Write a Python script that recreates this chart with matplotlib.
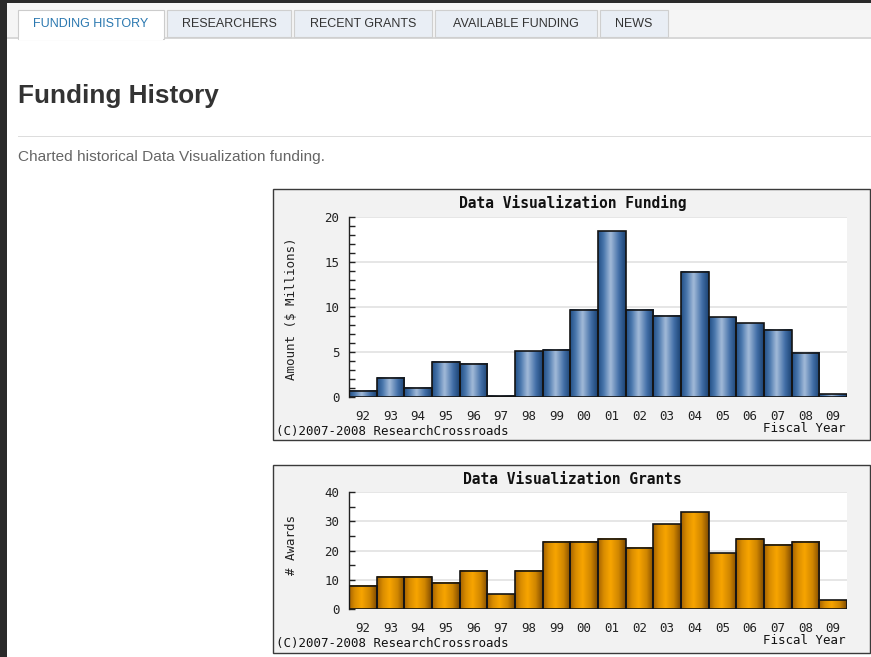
import numpy as np
import matplotlib
matplotlib.use("Agg")
import matplotlib.pyplot as plt
from matplotlib.patches import Rectangle
from matplotlib.colors import LinearSegmentedColormap

# --- data ---
years = ["92", "93", "94", "95", "96", "97", "98", "99", "00",
         "01", "02", "03", "04", "05", "06", "07", "08", "09"]
funding = [0.72, 2.14, 1.04, 3.92, 3.66, 0.15, 5.06, 5.21, 9.69,
           18.34, 9.69, 8.98, 13.9, 8.84, 8.17, 7.43, 4.88, 0.3]
awards = [8, 11, 11, 9, 13, 5, 13, 23, 23, 24, 21, 29, 33, 19, 24, 22, 23, 3]
tabs = ["FUNDING HISTORY", "RESEARCHERS", "RECENT GRANTS", "AVAILABLE FUNDING", "NEWS"]

W, H = 871, 657
MONO = "DejaVu Sans Mono"
SANS = "Liberation Sans"

fig = plt.figure(figsize=(W / 100, H / 100), dpi=100)
fig.patch.set_facecolor("white")


def fx(x):
    return x / W


def fy(y):
    return 1 - y / H


def rect_px(x0, y0, x1, y1, zorder=-1, **kw):
    fig.patches.append(Rectangle((fx(x0), fy(y1)), fx(x1) - fx(x0), fy(y0) - fy(y1),
                                 transform=fig.transFigure, zorder=zorder, **kw))


def axes_px(x0, y0, x1, y1):
    return fig.add_axes([fx(x0), fy(y1), fx(x1) - fx(x0), fy(y0) - fy(y1)])


# page chrome
rect_px(0, 0, W, 3, facecolor="#2a2a2a", edgecolor="none")
rect_px(0, 0, 7, H, facecolor="#2a2a2a", edgecolor="none")
rect_px(7, 3, W, 38, facecolor="#f5f5f5", edgecolor="none")
rect_px(7, 37, W, 39, facecolor="#d8d8d8", edgecolor="none")

tab_edges = [(18, 164), (167, 291), (294, 432), (435, 597), (600, 668)]
for i, (name, (a, b)) in enumerate(zip(tabs, tab_edges)):
    if i == 0:
        rect_px(a, 10, b, 39, facecolor="white", edgecolor="#cccccc", linewidth=0.8)
        rect_px(a + 0.8, 37, b - 0.8, 40, facecolor="white", edgecolor="none")
        col = "#2b78b0"
    else:
        rect_px(a, 10, b, 37, facecolor="#e9eef5", edgecolor="#cfcfcf", linewidth=0.8)
        col = "#333333"
    fig.text(fx((a + b) / 2), fy(24), name, family=SANS, fontsize=9, color=col,
             ha="center", va="center")

fig.text(fx(18), fy(96), "Funding History", family=SANS, fontsize=18.8, fontweight="bold",
         color="#333333", ha="left", va="center")
rect_px(18, 135.5, W, 136.7, facecolor="#dddddd", edgecolor="none")
fig.text(fx(18), fy(157), "Charted historical Data Visualization funding.", family=SANS,
         fontsize=11.1, color="#666666", ha="left", va="center")

blue = LinearSegmentedColormap.from_list(
    "blue", [(0, "#234f86"), (0.2, "#4a77ad"), (0.45, "#a3bbd9"), (0.75, "#4370a8"), (1, "#1b4273")])
orange = LinearSegmentedColormap.from_list(
    "orange", [(0, "#a56200"), (0.2, "#d98c00"), (0.45, "#f8a500"), (0.75, "#cf8500"), (1, "#7f4b00")])


def chart(box, plot, title, values, ymax, major, minor, ylabel, ylab_y, cmap):
    bx0, by0, bx1, by1 = box
    rect_px(bx0, by0, bx1, by1, facecolor="#f2f2f2", edgecolor="#3a3a3a", linewidth=1.0)
    ax = axes_px(*plot)
    ax.set_facecolor("white")
    x = np.arange(len(values))
    bars = ax.bar(x, values, width=1.0, color="none", edgecolor="#141414", linewidth=1.2, zorder=3)
    grad = np.linspace(0, 1, 64).reshape(1, -1)
    for b in bars:
        x0, w, h = b.get_x(), b.get_width(), b.get_height()
        ax.imshow(grad, cmap=cmap, aspect="auto", extent=(x0, x0 + w, 0, h),
                  interpolation="bicubic", zorder=2)
    ax.set_xlim(-0.5, len(values) - 0.5)
    ax.set_ylim(0, ymax)
    ax.set_yticks(np.arange(0, ymax + 0.1, major))
    ax.set_yticks(np.arange(0, ymax + 0.1, minor), minor=True)
    ax.yaxis.grid(True, color="#e2e2e2", linewidth=1.2, zorder=0)
    ax.set_axisbelow(True)
    ax.set_xticks(x)
    ax.set_xticklabels(years)
    for s in ("top", "right", "bottom"):
        ax.spines[s].set_visible(False)
    ax.spines["left"].set_color("#222222")
    ax.spines["left"].set_linewidth(1.0)
    ax.tick_params(axis="y", which="both", direction="in", length=4, width=1, color="#222222",
                   pad=7, labelsize=9, labelcolor="#222222")
    ax.tick_params(axis="x", length=0, pad=9, labelsize=9, labelcolor="#222222")
    for lab in ax.get_xticklabels() + ax.get_yticklabels():
        lab.set_family(MONO)
    fig.text(fx((bx0 + bx1) / 2 + 1), fy(by0 + 14), title, family=MONO, fontsize=10.5,
             fontweight="bold", color="#111111", ha="center", va="center")
    fig.text(fx(291), fy(ylab_y), ylabel, family=MONO, fontsize=9,
             rotation=90, color="#222222", ha="center", va="center")
    fig.text(fx(276), fy(by1 - 9), "(C)2007-2008 ResearchCrossroads", family=MONO,
             fontsize=9, color="#111111", ha="left", va="center")
    fig.text(fx(845), fy(by1 - 12), "Fiscal Year", family=MONO, fontsize=9,
             color="#111111", ha="right", va="center")
    return ax


chart((273, 189, 870, 440), (349, 216.5, 847, 397), "Data Visualization Funding",
      funding, 20, 5, 1, "Amount ($ Millions)", 309, blue)
chart((273, 465, 870, 653), (349, 492, 847, 609), "Data Visualization Grants",
      awards, 40, 10, 5, "# Awards", 545, orange)

fig.savefig("out.png", dpi=100)
